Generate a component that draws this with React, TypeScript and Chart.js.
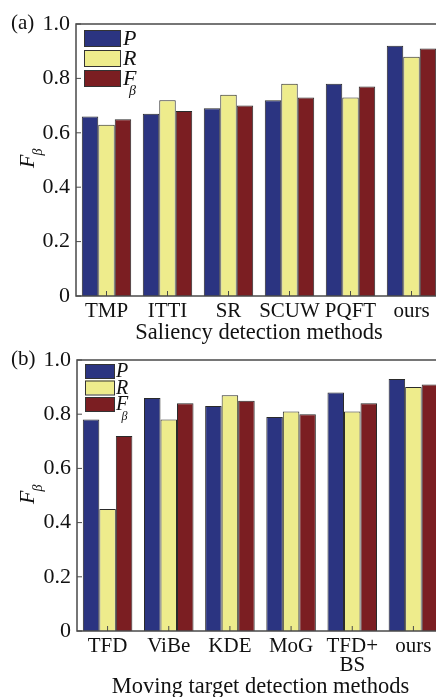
import React, { useEffect, useRef } from "react";
import { Chart, registerables } from "chart.js";
Chart.register(...registerables);

const seriesNames = ["P", "R", "F"];
const seriesColors = ["#2b3481", "#eeec8c", "#7b1e22"];

const catsA = ["TMP", "ITTI", "SR", "SCUW", "PQFT", "ours"];
const pA = [0.66, 0.67, 0.69, 0.72, 0.78, 0.92];
const rA = [0.63, 0.72, 0.74, 0.78, 0.73, 0.88];
const fA = [0.65, 0.68, 0.7, 0.73, 0.77, 0.91];

const catsB = ["TFD", "ViBe", "KDE", "MoG", ["TFD+", "BS"], "ours"];
const pB = [0.78, 0.86, 0.83, 0.79, 0.88, 0.93];
const rB = [0.45, 0.78, 0.87, 0.81, 0.81, 0.9];
const fB = [0.72, 0.84, 0.85, 0.8, 0.84, 0.91];

const yTickValues = [0, 0.2, 0.4, 0.6, 0.8, 1.0];

const SERIF = "'Liberation Serif', 'DejaVu Serif', serif";

type PanelCfg = {
  panel: string;
  xTitle: string;
  xTitleY: number;
  axisWidth: number;
  axisHeight: number;
  padTop: number;
  legend: { x: number; y: number; w: number; h: number; step: number; font: number; labelX: number };
  yTitle: { x: number; y: number };
};

function makePlugin(cfg: PanelCfg) {
  return {
    id: "decor",
    afterDraw(chart: any) {
      const ctx = chart.ctx;
      const a = chart.chartArea;
      const xs = chart.scales.x;
      const ys = chart.scales.y;
      ctx.save();
      // frame
      ctx.strokeStyle = "#4a4a4a";
      ctx.lineWidth = 1.5;
      ctx.strokeRect(a.left, a.top, a.right - a.left, a.bottom - a.top);
      // inward ticks
      ctx.lineWidth = 1;
      ctx.beginPath();
      yTickValues.forEach((v) => {
        const y = ys.getPixelForValue(v);
        ctx.moveTo(a.left, y);
        ctx.lineTo(a.left + 5, y);
      });
      for (let i = 0; i < xs.ticks.length; i++) {
        const x = xs.getPixelForValue(i);
        ctx.moveTo(x, a.bottom);
        ctx.lineTo(x, a.bottom - 5);
      }
      ctx.stroke();
      // panel label
      ctx.fillStyle = "#111";
      ctx.font = `21px ${SERIF}`;
      ctx.textAlign = "left";
      ctx.textBaseline = "middle";
      ctx.fillText(cfg.panel, 11, a.top - 1);
      // x title
      ctx.textAlign = "center";
      ctx.font = `22.5px ${SERIF}`;
      ctx.fillText(cfg.xTitle, (a.left + a.right) / 2, cfg.xTitleY);
      // y title (rotated F_beta)
      ctx.save();
      ctx.translate(cfg.yTitle.x, cfg.yTitle.y);
      ctx.rotate(-Math.PI / 2);
      ctx.textAlign = "left";
      ctx.textBaseline = "middle";
      ctx.font = `italic 22px ${SERIF}`;
      ctx.fillText("F", -8, 0);
      const fw = ctx.measureText("F").width;
      ctx.font = `italic 14px ${SERIF}`;
      ctx.fillText("β", -8 + fw - 1, 10);
      ctx.restore();
      // legend
      const L = cfg.legend;
      seriesNames.forEach((name, i) => {
        const y = L.y + i * L.step;
        ctx.fillStyle = seriesColors[i];
        ctx.fillRect(L.x, y, L.w, L.h);
        ctx.strokeStyle = "#333";
        ctx.lineWidth = 1;
        ctx.strokeRect(L.x + 0.5, y + 0.5, L.w, L.h);
        ctx.fillStyle = "#111";
        ctx.textAlign = "left";
        ctx.textBaseline = "middle";
        ctx.font = `italic ${L.font}px ${SERIF}`;
        ctx.fillText(name, L.labelX, y + L.h / 2 + 1);
        if (name === "F") {
          const w = ctx.measureText("F").width;
          ctx.font = `italic ${Math.round(L.font * 0.62)}px ${SERIF}`;
          ctx.fillText("β", L.labelX + w * 0.45, y + L.h / 2 + L.font * 0.62);
        }
      });
      ctx.restore();
    },
  };
}

function BarPanel(props: {
  cats: any[];
  p: number[];
  r: number[];
  f: number[];
  width: number;
  height: number;
  top: number;
  cfg: PanelCfg;
}) {
  const ref = useRef<HTMLCanvasElement | null>(null);
  useEffect(() => {
    if (!ref.current) return;
    const { cats, p, r, f, cfg } = props;
    const chart = new Chart(ref.current, {
      type: "bar",
      data: {
        labels: cats,
        datasets: [p, r, f].map((d, i) => ({
          label: seriesNames[i],
          data: d,
          backgroundColor: seriesColors[i],
          borderColor: "#2a2a2a",
          borderWidth: 1,
          categoryPercentage: 0.81,
          barPercentage: 1.0,
        })),
      },
      options: {
        responsive: false,
        animation: false,
        devicePixelRatio: 1,
        layout: { padding: { top: cfg.padTop, left: 0, right: 0, bottom: 0 } },
        plugins: { legend: { display: false }, tooltip: { enabled: false } },
        scales: {
          x: {
            grid: { display: false, drawTicks: false },
            border: { display: false },
            ticks: {
              color: "#111",
              padding: 6,
              maxRotation: 0,
              autoSkip: false,
              font: { family: SERIF, size: 21, lineHeight: 0.92 },
            },
            afterFit: (s: any) => {
              s.height = cfg.axisHeight;
            },
          },
          y: {
            min: 0,
            max: 1,
            grid: { display: false, drawTicks: false },
            border: { display: false },
            ticks: {
              stepSize: 0.2,
              color: "#111",
              padding: 6,
              font: { family: SERIF, size: 22 },
              callback: (v: any) => (Number(v) === 0 ? "0" : Number(v).toFixed(1)),
            },
            afterFit: (s: any) => {
              s.width = cfg.axisWidth;
            },
          },
        },
      },
      plugins: [makePlugin(cfg)],
    });
    return () => chart.destroy();
  }, []);
  return (
    <canvas
      ref={ref}
      width={props.width}
      height={props.height}
      style={{ position: "absolute", left: 0, top: props.top, width: props.width, height: props.height }}
    />
  );
}

const cfgA: PanelCfg = {
  panel: "(a)",
  xTitle: "Saliency detection methods",
  xTitleY: 333,
  axisWidth: 76,
  axisHeight: 49,
  padTop: 24,
  legend: { x: 84, y: 30, w: 36, h: 16, step: 20, font: 22, labelX: 123 },
  yTitle: { x: 28, y: 160 },
};

const cfgB: PanelCfg = {
  panel: "(b)",
  xTitle: "Moving target detection methods",
  xTitleY: 347,
  axisWidth: 77,
  axisHeight: 66,
  padTop: 20,
  legend: { x: 85, y: 24, w: 29, h: 14, step: 16.5, font: 20, labelX: 116 },
  yTitle: { x: 28, y: 156 },
};

export default function App() {
  return (
    <div
      style={{
        position: "fixed",
        left: 0,
        top: 0,
        width: 436,
        height: 697,
        overflow: "hidden",
        background: "#fff",
      }}
    >
      <BarPanel cats={catsA} p={pA} r={rA} f={fA} width={442} height={345} top={0} cfg={cfgA} />
      <BarPanel cats={catsB} p={pB} r={rB} f={fB} width={444} height={357} top={340} cfg={cfgB} />
    </div>
  );
}
